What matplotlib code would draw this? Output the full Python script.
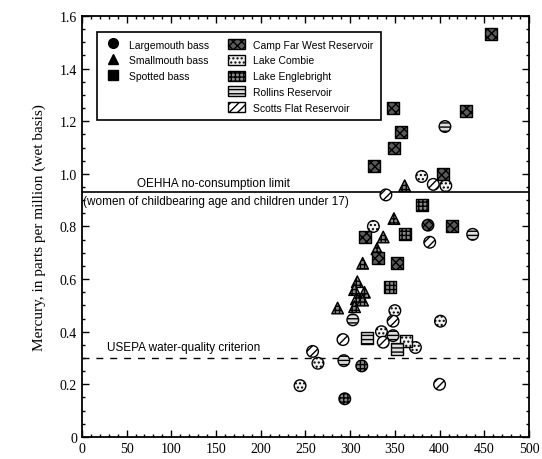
import numpy as np
import matplotlib
matplotlib.use("Agg")
import matplotlib.pyplot as plt
from matplotlib.lines import Line2D
from matplotlib.patches import Patch
from matplotlib.ticker import MultipleLocator

# Mercurio en lobinas (longitud en mm vs Hg en ppm)
reservoirs = ["Camp Far West Reservoir", "Lake Combie", "Lake Englebright",
              "Rollins Reservoir", "Scotts Flat Reservoir"]
res_fill = ["#5a5a5a", "#f2f2f2", "#8a8a8a", "#dedede", "#ffffff"]
res_hatch = ["xxxx", "....", "++++", "----", "////"]

# Largemouth bass (circulos)
lm_len = [406, 380, 393, 407, 340, 387, 326, 437, 389, 350, 348, 303, 401,
          292, 335, 348, 337, 373, 258, 264, 293, 313, 244, 294, 400]
lm_hg = [1.18, 0.99, 0.96, 0.955, 0.92, 0.805, 0.80, 0.77, 0.74, 0.48, 0.44, 0.445, 0.44,
         0.37, 0.40, 0.385, 0.36, 0.34, 0.325, 0.28, 0.29, 0.27, 0.195, 0.145, 0.20]
lm_res = [3, 1, 4, 1, 4, 0, 1, 3, 4, 1, 4, 3, 1,
          4, 1, 3, 4, 1, 4, 1, 3, 2, 1, 2, 4]

# Smallmouth bass (triangulos)
sm_len = [361, 349, 337, 330, 314, 308, 305, 316, 307, 314, 305, 286]
sm_hg = [0.955, 0.83, 0.76, 0.715, 0.66, 0.59, 0.56, 0.55, 0.525, 0.52, 0.495, 0.49]
sm_res = [2, 2, 2, 2, 2, 2, 2, 2, 2, 2, 2, 2]

# Spotted bass (cuadrados)
sp_len = [458, 348, 430, 357, 349, 327, 404, 380, 414, 317, 361, 331, 352, 345, 319, 362, 352]
sp_hg = [1.53, 1.25, 1.24, 1.16, 1.10, 1.03, 1.00, 0.88, 0.80, 0.76, 0.77, 0.68, 0.66,
         0.57, 0.377, 0.365, 0.335]
sp_res = [0, 0, 0, 0, 0, 0, 0, 2, 0, 0, 2, 0, 0, 2, 3, 1, 3]

oehha = 0.93
usepa = 0.3

fig = plt.figure(figsize=(5.42, 4.60), dpi=100)
ax = fig.add_axes([0.151, 0.048, 0.825, 0.915])

def dibujar(xs, ys, rs, marker, size):
    xs = np.array(xs); ys = np.array(ys); rs = np.array(rs)
    for i in range(len(reservoirs)):
        sel = rs == i
        if sel.any():
            ax.scatter(xs[sel], ys[sel], marker=marker, s=size, facecolor=res_fill[i],
                       edgecolor="black", linewidth=1.0, hatch=res_hatch[i], zorder=3)

dibujar(lm_len, lm_hg, lm_res, "o", 70)
dibujar(sm_len, sm_hg, sm_res, "^", 70)
dibujar(sp_len, sp_hg, sp_res, "s", 75)

ax.axhline(oehha, color="black", lw=1.2, zorder=2)
ax.axhline(usepa, color="black", lw=1.0, ls=(0, (5, 5)), zorder=2)

txt_font = ["Liberation Sans", "DejaVu Sans"]
ax.text(233, oehha + 0.012, "OEHHA no-consumption limit", ha="right", va="bottom",
        fontsize=8.5, family=txt_font)
ax.text(1, oehha - 0.01, "(women of childbearing age and children under 17)", ha="left",
        va="top", fontsize=8.5, family=txt_font)
ax.text(28, usepa + 0.02, "USEPA water-quality criterion", ha="left", va="bottom",
        fontsize=8.5, family=txt_font)

ax.set_xlim(0, 500)
ax.set_ylim(0, 1.6)
ax.xaxis.set_major_locator(MultipleLocator(50))
ax.xaxis.set_minor_locator(MultipleLocator(10))
ax.yaxis.set_major_locator(MultipleLocator(0.2))
ax.yaxis.set_minor_locator(MultipleLocator(0.05))
ax.set_yticks(np.arange(0, 1.61, 0.2))
ax.set_yticklabels(["0", "0.2", "0.4", "0.6", "0.8", "1.0", "1.2", "1.4", "1.6"])
ax.tick_params(which="both", direction="in", top=True, right=True, width=1.0)
ax.tick_params(which="major", length=5, labelsize=10)
ax.tick_params(which="minor", length=2.5)
for lab in ax.get_xticklabels() + ax.get_yticklabels():
    lab.set_family("Liberation Serif")
for sp in ax.spines.values():
    sp.set_linewidth(1.3)

ax.set_ylabel("Mercury, in parts per million (wet basis)", family="Liberation Serif",
              fontsize=11, labelpad=10)

# leyenda en dos columnas
handles = [Line2D([], [], marker="o", color="black", ls="", markersize=7),
           Line2D([], [], marker="^", color="black", ls="", markersize=7),
           Line2D([], [], marker="s", color="black", ls="", markersize=7),
           Line2D([], [], ls="", marker=""),
           Line2D([], [], ls="", marker="")]
labels = ["Largemouth bass", "Smallmouth bass", "Spotted bass", "", ""]
for i in range(len(reservoirs)):
    handles.append(Patch(facecolor=res_fill[i], edgecolor="black", hatch=res_hatch[i], lw=1.0))
    labels.append(reservoirs[i])
leg = ax.legend(handles, labels, ncol=2, loc="upper left", bbox_to_anchor=(0.022, 0.975),
                frameon=True, fancybox=False, edgecolor="black", framealpha=1,
                prop={"family": txt_font, "size": 7.5},
                handlelength=1.6, handleheight=1.1, labelspacing=0.5, columnspacing=1.8,
                borderpad=0.7)
leg.get_frame().set_linewidth(1.2)

fig.savefig("out.png", dpi=100)
